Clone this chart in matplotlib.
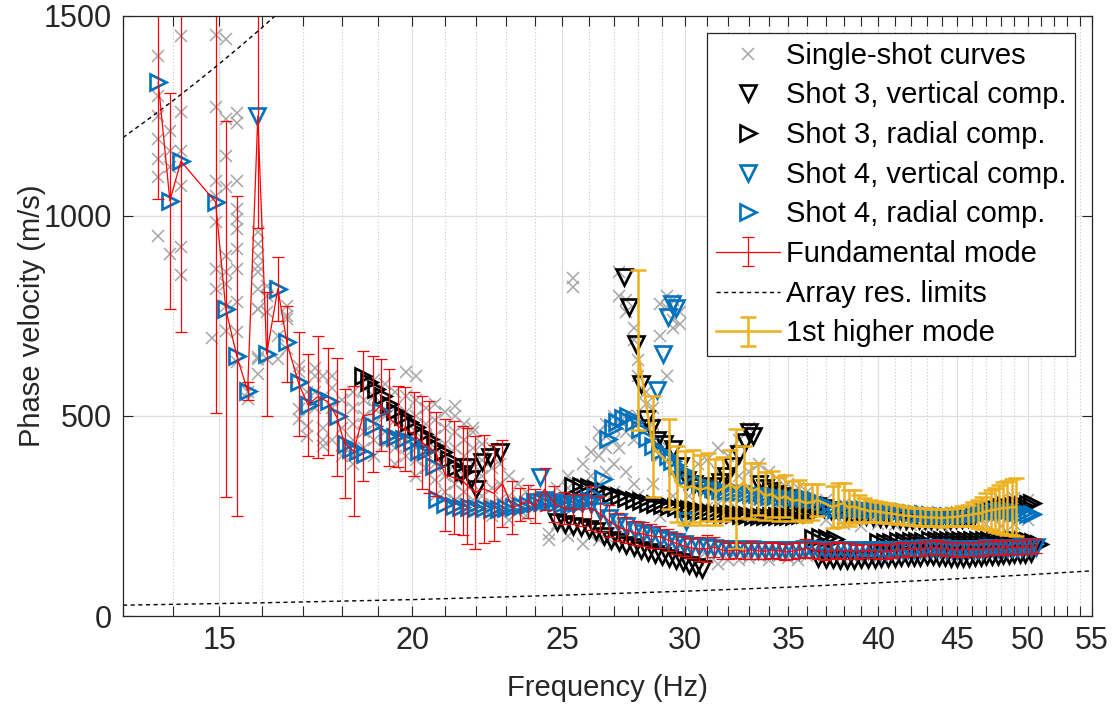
import matplotlib
matplotlib.use("Agg")
import matplotlib.pyplot as plt
from matplotlib.ticker import FixedLocator, FixedFormatter, NullFormatter

plt.rcParams['font.family'] = ['Liberation Sans', 'DejaVu Sans']

BLUE = '#0072BD'
ORANGE = '#EDB120'
GRAY = '#A6A6A6'
AXC = '#262626'

# ---------------- single-shot curves (columns of picks) ----------------
ss_low_f = [13.7, 13.94, 14.17, 14.85, 14.92, 15.15, 15.4, 15.65, 15.89, 16.1,
            16.37, 16.6, 16.9, 17.1, 17.3, 17.5, 17.75, 18.0]
ss_low_v = [[1400, 1300, 1250, 1192, 1142, 1097, 950], [1212, 1162, 1122, 905],
            [1450, 1260, 1162, 1075, 922, 852], [695],
            [1452, 1272, 1087, 1050, 985, 867, 817],
            [1442, 1242, 1150, 1072, 900, 860, 830, 775, 712],
            [1258, 1233, 1087, 1017, 992, 967, 917, 867, 785, 710, 635], [542, 560],
            [960, 930, 900, 875, 860, 818, 768, 767, 647, 642, 605], [825, 800, 760, 642],
            [642, 700], [775, 750, 742, 667], [625, 610, 517, 492], [475, 450, 560],
            [620, 600, 560, 520], [470, 440, 425, 600], [600, 570, 520, 440], [400, 470, 540]]

ss_mid_f = [18.3, 18.6, 18.9, 19.2, 19.5, 19.8, 20.1, 20.4, 20.7, 21.0, 21.3, 21.6,
            21.9, 22.2, 22.5, 22.8, 23.1, 23.4, 23.7]
ss_mid_v = [[560, 520, 480, 440, 400, 380], [570, 540, 500, 460, 420],
            [590, 550, 520, 480, 440, 400], [580, 540, 500, 460, 430],
            [560, 520, 490, 450, 420, 380], [610, 550, 510, 470, 440, 400],
            [600, 540, 500, 460, 420, 390, 350], [520, 480, 450, 410, 370],
            [530, 490, 450, 420, 380, 340, 300], [510, 470, 430, 390, 350, 310],
            [525, 500, 460, 420, 380, 330, 290], [480, 440, 400, 350, 310, 280],
            [470, 460, 420, 380, 330, 290, 260], [430, 390, 350, 300, 270],
            [420, 370, 320, 280, 250], [380, 330, 290, 260], [350, 300, 270, 240],
            [330, 290, 260], [310, 280, 250]]

ss_high_f = [24.5, 24.8, 25.2, 25.4, 25.8, 26.1, 26.4, 26.7, 27.0, 27.2, 27.5, 27.8,
             28.0, 28.3, 28.6, 28.9, 29.2, 29.5, 29.8, 30.2, 30.6, 31.0, 31.5, 32.0,
             32.5, 33.0, 33.5, 34.0, 34.5, 35.0, 35.5, 36.0, 37.0, 38.0, 39.0, 40.0,
             41.0, 42.0, 43.0, 44.0, 45.0, 46.0, 47.0, 48.0, 49.0, 50.0]
ss_high_v = [[205, 190, 300], [230, 320], [350, 320, 200], [845, 822],
             [330, 300, 380, 180], [410, 350, 320, 200], [430, 460, 400, 330, 190],
             [450, 480, 420, 360, 210], [470, 500, 440, 380, 310, 180],
             [860, 800, 490, 420, 230], [790, 760, 500, 460, 360, 200],
             [720, 690, 480, 440, 330], [640, 600, 500, 300], [560, 530, 470, 200],
             [480, 520, 450, 330], [700, 780, 440, 400, 250], [800, 770, 600, 410],
             [790, 740, 720, 380, 300], [760, 730, 360, 180],
             [330, 300, 150], [380, 320, 260, 140], [390, 330, 270, 150],
             [420, 360, 280, 130], [400, 340, 290, 140], [440, 350, 300, 140],
             [470, 360, 290, 145], [380, 300, 150], [360, 290, 140], [340, 280, 150],
             [330, 270, 145], [320, 260, 140], [310, 250, 150],
             [290, 240, 145], [280, 230, 140], [275, 225, 140], [270, 230, 145],
             [265, 228, 150], [262, 228, 150], [260, 226, 148], [258, 228, 150],
             [260, 232, 152], [270, 235, 150], [280, 230, 150], [290, 225, 155],
             [295, 230, 160], [290, 240, 160]]

# ---------------- common frequency grid (24-50.6 Hz) ----------------
grid_f = [24.0, 24.35, 24.7, 25.05, 25.4, 25.75, 26.1, 26.45, 26.8, 27.15,
          27.5, 27.85, 28.2, 28.55, 28.9, 29.25, 29.6, 29.95, 30.3, 30.65,
          31.0, 31.35, 31.7, 32.05, 32.4, 32.75, 33.1, 33.45, 33.8, 34.15,
          34.5, 34.85, 35.2, 35.55, 35.9, 36.25, 36.6, 36.95, 37.3, 37.65,
          38.0, 38.35, 38.7, 39.05, 39.4, 39.75, 40.1, 40.45, 40.8, 41.15,
          41.5, 41.85, 42.2, 42.55, 42.9, 43.25, 43.6, 43.95, 44.3, 44.65,
          45.0, 45.35, 45.7, 46.05, 46.4, 46.75, 47.1, 47.45, 47.8, 48.15,
          48.5, 48.85, 49.2, 49.55, 49.9, 50.25, 50.6]

# ---------------- Shot 3, vertical component ----------------
s3v_low_f = [21.5, 21.7, 21.82, 22.0, 22.17, 22.45, 22.8]
s3v_low_v = [355, 372, 342, 318, 385, 397, 410]
s3v_high_f = [27.4, 27.6, 27.9, 28.1, 28.3, 28.55, 28.8, 29.1, 29.5, 29.8,
              30.1, 30.4, 30.7, 31.0, 31.3, 31.6, 31.9, 32.2, 32.5, 32.8,
              33.0, 33.2, 33.5, 33.8, 34.1, 34.4, 34.7, 35.0, 35.3, 35.6,
              35.9, 36.2, 36.5, 36.9, 37.3, 37.7, 38.1, 38.5, 38.9, 39.3,
              39.7, 40.1, 40.5, 40.9, 41.3, 41.7, 42.1, 42.5, 42.9, 43.3,
              43.7, 44.1, 44.5, 44.9, 45.3, 45.7, 46.1]
s3v_high_v = [847, 772, 680, 580, 493, 470, 440, 430, 418, 375,
              340, 330, 322, 318, 325, 335, 350, 375, 405, 435,
              460, 450, 330, 320, 312, 305, 300, 295, 290, 285,
              280, 278, 275, 270, 265, 262, 258, 255, 252, 250,
              248, 246, 244, 243, 242, 241, 240, 240, 240, 240,
              240, 240, 241, 242, 243, 244, 245]
s3v_fund_f = [24.8, 25.1, 25.4, 25.7, 26.0, 26.3, 26.6, 26.9, 27.2, 27.5,
              27.8, 28.1, 28.4, 28.7, 29.0, 29.3, 29.6, 29.9, 30.2, 30.5, 30.8]
s3v_fund_v = [235, 230, 225, 222, 218, 212, 200, 190, 185, 178,
              172, 166, 160, 155, 150, 145, 140, 135, 128, 122, 118]
s3v_fund2_f = [36.6, 37.0, 37.4, 37.8, 38.2, 38.6, 39.0, 39.4, 39.8, 40.2,
               40.6, 41.0, 41.4, 41.8, 42.2, 42.6, 43.0, 43.4, 43.8, 44.2,
               44.6, 45.0, 45.4, 45.8, 46.2, 46.6, 47.0, 47.4, 47.8, 48.2,
               48.6, 49.0, 49.4, 49.8, 50.2]
s3v_fund2_v = [145, 143, 142, 140, 140, 141, 142, 142, 143, 144,
               145, 146, 147, 147, 148, 148, 149, 149, 148, 147,
               146, 145, 145, 146, 147, 148, 149, 150, 151, 152,
               153, 154, 155, 156, 157]

# ---------------- Shot 3, radial component ----------------
s3r_diag_f = [18.58, 18.74, 18.94, 19.13, 19.31, 19.50, 19.71, 19.89, 20.10, 20.31,
              20.49, 20.70, 20.92, 21.11, 21.33, 21.55]
s3r_diag_v = [600, 585, 567, 550, 530, 512, 500, 485, 472, 455,
              442, 425, 410, 392, 372, 360]
s3r_band_f = [25.4, 25.7, 26.0, 26.3, 26.6, 26.9, 27.2, 27.5, 27.8, 28.1,
              28.4, 28.7, 29.0, 29.3, 29.6, 29.9, 30.2, 30.5, 30.8, 31.1,
              31.4, 31.7, 32.0, 32.3, 32.6, 32.9, 33.2, 33.5, 33.8, 34.1,
              34.4, 34.7, 35.0, 35.3, 35.6, 35.9, 36.2]
s3r_band_v = [325, 325, 322, 318, 312, 305, 300, 295, 290, 287,
              283, 280, 277, 275, 272, 270, 268, 266, 262, 260,
              258, 256, 255, 254, 253, 252, 251, 250, 250, 250,
              250, 250, 250, 250, 252, 254, 256]
s3r_fund_f = [36.3, 36.7, 37.1, 37.5, 40.0, 40.4, 40.8, 41.2, 41.6, 42.0,
              42.4, 42.8, 43.2, 43.6, 44.0, 44.4, 44.8, 45.2, 45.6, 46.0,
              46.4, 46.8, 47.2, 47.6, 48.0, 48.4, 48.8, 49.2, 49.6, 50.0,
              50.4, 50.8]
s3r_fund_v = [195, 197, 195, 192, 185, 186, 186, 187, 187, 188,
              188, 188, 189, 189, 190, 190, 190, 190, 190, 190,
              190, 190, 190, 190, 190, 190, 190, 190, 190, 188,
              185, 180]
s3r_high_f = [46.8, 47.2, 47.6, 48.0, 48.4, 48.8, 49.2, 49.6, 50.0, 50.3]
s3r_high_v = [262, 265, 268, 272, 275, 276, 277, 278, 280, 282]

# ---------------- Shot 4, vertical component ----------------
s4v_pts_f = [15.88, 24.2, 28.8, 29.06, 29.28, 29.45, 29.6, 30.05]
s4v_pts_v = [1250, 347, 565, 655, 747, 780, 770, 238]
s4v_fund_v = [285, 290, 285, 280, 280, 282, 280, 262, 245, 235,
              225, 215, 208, 202, 195, 190, 185, 180, 176, 174,
              172, 170, 168, 167, 168, 166, 167, 166, 165, 166,
              165, 164, 165, 166, 168, 167, 165, 164, 165, 166,
              165, 164, 163, 164, 165, 164, 163, 163, 164, 165,
              166, 167, 167, 168, 169, 169, 170, 169, 168, 167,
              166, 166, 167, 167, 168, 168, 169, 169, 170, 170,
              170, 171, 171, 172, 172, 172, 172]

# ---------------- Shot 4, radial component ----------------
s4r_low_f = [13.70, 13.94, 14.17, 14.92, 15.15, 15.40, 15.65, 16.10, 16.37, 16.60,
             16.90, 17.14, 17.37, 17.66, 17.90, 18.11, 18.25, 18.44, 18.65, 18.85,
             19.08, 19.28, 19.50, 19.74, 20.00, 20.19, 20.40, 20.64]
s4r_low_v = [1335, 1038, 1137, 1035, 767, 650, 563, 655, 818, 685,
             585, 528, 550, 538, 500, 430, 418, 413, 405, 475,
             513, 450, 448, 443, 435, 413, 413, 375]
s4r_band_f = [20.76, 21.01, 21.27, 21.5, 21.75, 22.0, 22.25, 22.5, 22.75, 23.0,
              23.25, 23.5, 23.75, 24.0, 24.25, 24.5, 24.75, 25.0, 25.25, 25.5,
              25.75, 26.0, 26.25, 26.58, 26.78, 26.95, 27.14, 27.35, 27.55, 27.8,
              28.08, 28.35, 28.63, 28.93, 29.24, 29.45, 29.67, 29.9, 30.1]
s4r_band_v = [293, 280, 275, 272, 272, 270, 270, 268, 268, 270,
              272, 275, 278, 282, 285, 285, 283, 280, 280, 282,
              285, 290, 300, 342, 442, 470, 485, 495, 500, 485,
              467, 445, 425, 412, 400, 388, 375, 362, 350]
s4r_high_f = [30.4, 30.7, 31.0, 31.3, 31.6, 31.9, 32.2, 32.5, 32.8, 33.1,
              33.4, 33.7, 34.0, 34.3, 34.6, 34.9, 35.2, 35.5, 35.8, 36.1,
              36.4, 36.7, 37.0, 37.3, 37.6, 37.9, 38.2, 38.5, 38.8, 39.1,
              39.4, 39.7, 40.0, 40.4, 40.8, 41.2, 41.6, 42.0, 42.4, 42.8,
              43.2, 43.6, 44.0, 44.4, 44.8, 45.2, 45.6, 46.0, 46.4, 46.8,
              47.2, 47.6, 48.0, 48.4, 48.8, 49.2, 49.6, 50.0, 50.3]
s4r_high_v = [340, 332, 325, 320, 315, 312, 310, 310, 308, 306,
              304, 302, 300, 300, 298, 297, 296, 295, 294, 292,
              290, 285, 278, 272, 268, 266, 266, 268, 268, 267,
              266, 265, 264, 263, 262, 261, 260, 258, 256, 254,
              252, 250, 250, 250, 250, 250, 252, 254, 256, 258,
              260, 262, 262, 262, 262, 260, 258, 256, 255]

# ---------------- Fundamental mode (mean +/- std) ----------------
fund_lo_f = [13.70, 13.94, 14.17, 14.92, 15.15, 15.40, 15.65, 15.89, 16.10, 16.37,
             16.60, 16.89, 17.12, 17.37, 17.63, 17.87, 18.08, 18.33, 18.58, 18.85,
             19.08, 19.31, 19.57, 19.77, 20.04, 20.28, 20.49, 20.73, 21.01, 21.27,
             21.55, 21.71, 21.97, 22.24, 22.57, 22.87, 23.21, 23.49, 23.74]
fund_lo_v = [1335, 1038, 1137, 1035, 767, 650, 563, 1250, 655, 818,
             680, 580, 528, 548, 536, 498, 431, 412, 500, 505,
             527, 496, 474, 467, 455, 434, 423, 405, 352, 346,
             339, 325, 309, 318, 307, 331, 271, 279, 287]
fund_lo_e = [293, 270, 427, 528, 470, 400, 22, 280, 155, 80,
             95, 130, 128, 153, 134, 147, 137, 162, 163, 145,
             115, 121, 101, 105, 105, 116, 115, 105, 140, 141,
             136, 145, 141, 135, 120, 109, 66, 42, 41]
fund_hi_v = [275, 317, 280, 270, 268, 265, 270, 255, 238, 222,
             215, 208, 205, 200, 198, 190, 182, 175, 170, 168,
             168, 172, 165, 163, 165, 162, 165, 163, 162, 165,
             163, 160, 162, 165, 170, 166, 163, 160, 162, 165,
             163, 162, 160, 162, 163, 162, 160, 161, 163, 165,
             166, 168, 167, 168, 170, 170, 171, 170, 168, 167,
             166, 166, 167, 168, 168, 169, 170, 170, 171, 171,
             172, 172, 173, 173, 174, 174, 175]
fund_hi_e = [43, 53, 45, 40, 38, 40, 55, 45, 40, 35,
             32, 30, 30, 30, 28, 27, 26, 25, 25, 30,
             34, 25, 22, 20, 20, 20, 22, 20, 20, 20,
             20, 20, 20, 20, 22, 20, 20, 20, 20, 20,
             20, 20, 18, 18, 18, 18, 18, 18, 18, 18,
             18, 18, 18, 18, 18, 18, 18, 18, 18, 18,
             18, 18, 18, 18, 18, 18, 18, 18, 18, 18,
             18, 18, 18, 18, 18, 18, 18]

# ---------------- 1st higher mode ----------------
high_f = [27.97, 28.60, 29.30, 29.65, 30.0, 30.35, 30.7, 31.05, 31.4, 31.75,
          32.1, 32.4, 32.75, 33.1, 33.45, 33.8, 34.15, 34.5, 34.85, 35.2,
          35.55, 35.9, 36.25, 36.55, 37.4, 37.7, 38.0, 38.3, 38.6, 38.9,
          39.2, 39.5, 39.8, 40.1, 40.45, 40.8, 41.15, 41.5, 41.85, 42.2,
          42.55, 42.9, 43.25, 43.6, 43.95, 44.3, 44.65, 45.0, 45.35, 45.7,
          46.05, 46.4, 46.7, 47.0, 47.3, 47.6, 47.9, 48.2, 48.5, 48.8, 49.1]
high_v = [666, 424, 380, 330, 320, 325, 315, 322, 310, 318,
          330, 317, 335, 312, 318, 300, 305, 292, 300, 288,
          290, 282, 285, 290, 272, 278, 282, 270, 275, 268,
          266, 262, 262, 260, 258, 256, 254, 252, 250, 249,
          248, 247, 246, 246, 245, 246, 247, 248, 250, 252,
          254, 256, 258, 262, 264, 266, 268, 270, 270, 272, 272]
high_e = [200, 126, 112, 95, 92, 90, 88, 85, 82, 80,
          85, 150, 90, 70, 65, 60, 58, 55, 52, 50,
          50, 48, 45, 40, 52, 55, 50, 45, 40, 35,
          30, 28, 26, 25, 25, 24, 24, 23, 23, 22,
          22, 22, 22, 22, 22, 22, 22, 23, 24, 26,
          30, 35, 40, 45, 50, 55, 60, 65, 68, 70, 72]

# ---------------- array resolution limits ----------------
lim_up_f = [13.0, 13.5, 14.0, 14.5, 15.0, 15.5, 16.0, 16.5]
lim_up_v = [1196, 1242, 1288, 1334, 1380, 1426, 1472, 1518]
lim_lo_f = [13, 16, 20, 25, 30, 35, 40, 45, 50, 55]
lim_lo_v = [27, 33, 41, 52, 62, 72, 83, 93, 103, 113]

xtick_vals = [15, 20, 25, 30, 35, 40, 45, 50, 55]
ytick_vals = [0, 500, 1000, 1500]


def flatten(cols_f, cols_v):
    xs, ys = [], []
    for f, vs in zip(cols_f, cols_v):
        for v in vs:
            xs.append(f)
            ys.append(v)
    return xs, ys


fig = plt.figure(figsize=(11.13, 7.04), dpi=100)
ax = fig.add_axes([0.1105, 0.125, 0.8706, 0.8523])
ax.set_xscale('log')

handles = []

# single-shot curves
ss_style = dict(ls='none', marker='x', ms=8, mew=1.1, color=GRAY)
for cf, cv in [(ss_low_f, ss_low_v), (ss_mid_f, ss_mid_v), (ss_high_f, ss_high_v)]:
    xs, ys = flatten(cf, cv)
    h, = ax.plot(xs, ys, **ss_style)
handles.append(h)

tri = dict(ls='none', ms=11, mew=1.9, mfc='none')
# shot 3 vertical
for f, v in [(s3v_low_f, s3v_low_v), (s3v_high_f, s3v_high_v),
             (s3v_fund_f, s3v_fund_v), (s3v_fund2_f, s3v_fund2_v)]:
    h, = ax.plot(f, v, marker='v', mec='black', **tri)
handles.append(h)
# shot 3 radial
for f, v in [(s3r_diag_f, s3r_diag_v), (s3r_band_f, s3r_band_v),
             (s3r_fund_f, s3r_fund_v), (s3r_high_f, s3r_high_v)]:
    h, = ax.plot(f, v, marker='>', mec='black', **tri)
handles.append(h)
# shot 4 vertical
for f, v in [(s4v_pts_f, s4v_pts_v), (grid_f, s4v_fund_v)]:
    h, = ax.plot(f, v, marker='v', mec=BLUE, **tri)
handles.append(h)
# shot 4 radial
for f, v in [(s4r_low_f, s4r_low_v), (s4r_band_f, s4r_band_v), (s4r_high_f, s4r_high_v)]:
    h, = ax.plot(f, v, marker='>', mec=BLUE, **tri)
handles.append(h)

# fundamental mode
fund_f = fund_lo_f + grid_f
fund_v = fund_lo_v + fund_hi_v
fund_e = fund_lo_e + fund_hi_e
h = ax.errorbar(fund_f, fund_v, yerr=fund_e, color='red', lw=0.9, elinewidth=0.9,
                capsize=4.5, capthick=0.9)
handles.append(h)

# array resolution limits
h, = ax.plot(lim_lo_f, lim_lo_v, color='black', lw=1.0, ls=(0, (3, 2.5)))
ax.plot(lim_up_f, lim_up_v, color='black', lw=1.0, ls=(0, (3, 2.5)))
handles.append(h)

# 1st higher mode
h = ax.errorbar(high_f, high_v, yerr=high_e, color=ORANGE, lw=1.8, elinewidth=1.8,
                capsize=5.5, capthick=1.8)
handles.append(h)

labels = ['Single-shot curves', 'Shot 3, vertical comp.', 'Shot 3, radial comp.',
          'Shot 4, vertical comp.', 'Shot 4, radial comp.', 'Fundamental mode',
          'Array res. limits', '1st higher mode']

ax.set_xlim(13, 55)
ax.set_ylim(0, 1500)
ax.xaxis.set_major_locator(FixedLocator(xtick_vals))
ax.xaxis.set_major_formatter(FixedFormatter([str(t) for t in xtick_vals]))
ax.xaxis.set_minor_locator(FixedLocator([i for i in range(13, 56) if i % 5 != 0]))
ax.xaxis.set_minor_formatter(NullFormatter())
ax.yaxis.set_major_locator(FixedLocator(ytick_vals))

ax.set_axisbelow(True)
ax.grid(which='major', color='#DFDFDF', lw=0.9, ls='-')
ax.grid(which='minor', axis='x', color='#C8C8C8', lw=0.8, ls=(0, (1, 2)))
ax.tick_params(which='both', direction='in', top=True, right=True, length=7,
               width=0.8, color=AXC, labelcolor=AXC, labelsize=22)
ax.tick_params(axis='x', which='major', pad=7)
ax.tick_params(axis='y', which='major', pad=8)
for s in ax.spines.values():
    s.set_color(AXC)
    s.set_linewidth(0.9)

ax.set_xlabel('Frequency (Hz)', fontsize=21, color=AXC, labelpad=13)
ax.set_ylabel('Phase velocity (m/s)', fontsize=21, color=AXC, labelpad=-2)

leg = ax.legend(handles, labels, loc='upper right', bbox_to_anchor=(0.9825, 0.9717),
                borderaxespad=0, fontsize=21, frameon=True, fancybox=False,
                framealpha=1, edgecolor=AXC, borderpad=0.3, handletextpad=0.2,
                handlelength=2.2, labelspacing=0.4)
leg.get_frame().set_linewidth(0.9)

fig.savefig('out.png', dpi=100)
